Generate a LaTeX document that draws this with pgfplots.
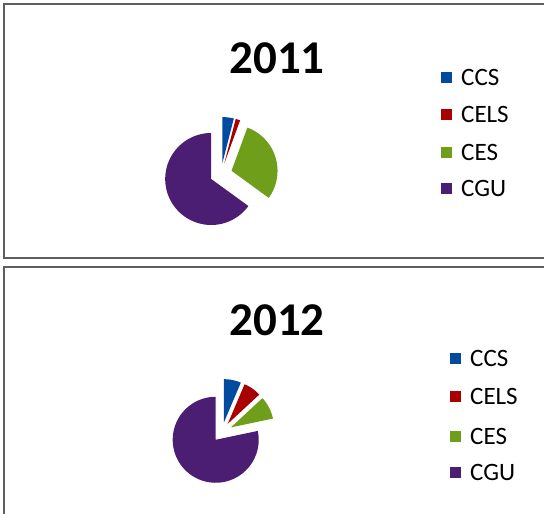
\documentclass[border=0pt]{standalone}
\usepackage{pgfplots}
\pgfplotsset{compat=1.18}
\usepackage{fontspec}
\setmainfont{Carlito}
\definecolor{cCCS}{HTML}{004AA0}
\definecolor{cCELS}{HTML}{A80000}
\definecolor{cCES}{HTML}{6F9E1A}
\definecolor{cCGU}{HTML}{4B1E73}
\definecolor{frame}{HTML}{5E5E5E}
% slice: cx cy r start% end% explode color
\newcommand{\slice}[7]{%
  \pgfmathsetmacro\sa{#4*3.6}%
  \pgfmathsetmacro\ea{#5*3.6}%
  \pgfmathsetmacro\ma{(\sa+\ea)/2}%
  \pgfmathsetmacro\ox{#1+#6*sin(\ma)}%
  \pgfmathsetmacro\oy{#2-#6*cos(\ma)}%
  \edef\temp{\noexpand\addplot[fill=#7, draw=none, domain=\sa:\ea, samples=80]
    ({\ox+#3*sin(x)},{\oy-#3*cos(x)}) -- (axis cs:\ox,\oy) -- cycle;}%
  \temp}
% legend entry: x y color label
\newcommand{\legent}[4]{%
  \pgfmathsetmacro\la{#2-5.5}\pgfmathsetmacro\lb{#2+5.5}\pgfmathsetmacro\lx{#1+11}\pgfmathsetmacro\lt{#1+20}%
  \edef\temp{\noexpand\fill[#3] (axis cs:#1,\la) rectangle (axis cs:\lx,\lb);
    \noexpand\node[anchor=west, inner sep=0pt, font=\noexpand\fontsize{25}{25}\noexpand\selectfont] at (axis cs:\lt,#2) {#4};}%
  \temp}
\begin{document}
\begin{tikzpicture}
\begin{axis}[
  at={(0,0)}, anchor=south west,
  width=544pt, height=514pt, scale only axis,
  xmin=0, xmax=544, ymin=0, ymax=514, y dir=reverse,
  hide axis, clip=false]
% frames
\draw[frame, line width=2.2pt] (axis cs:4,4) rectangle (axis cs:600,258);
\draw[frame, line width=2.2pt] (axis cs:4,267) rectangle (axis cs:600,600);
% 2011 shares (%): CCS 4, CELS 1.6, CES 29.4, CGU 65
\slice{221}{174}{46}{0}{4}{11}{cCCS}
\slice{221}{174}{46}{4}{5.6}{11}{cCELS}
\slice{221}{174}{46}{5.6}{35}{11}{cCES}
\slice{221}{174}{46}{35}{100}{11}{cCGU}
% 2012 shares (%): CCS 6.4, CELS 6.7, CES 8.6, CGU 78.3
\slice{222}{432}{43}{0}{6.4}{10}{cCCS}
\slice{222}{432}{43}{6.4}{13.1}{10}{cCELS}
\slice{222}{432}{43}{13.1}{21.7}{10}{cCES}
\slice{222}{432}{43}{21.7}{100}{10}{cCGU}
% titles
\node[anchor=base, font=\fontsize{47}{47}\selectfont\bfseries] at (axis cs:277,73) {2011};
\node[anchor=base, font=\fontsize{47}{47}\selectfont\bfseries] at (axis cs:277,335) {2012};
% legends
\legent{441}{77}{cCCS}{CCS}
\legent{441}{114}{cCELS}{CELS}
\legent{441}{152}{cCES}{CES}
\legent{441}{188}{cCGU}{CGU}
\legent{450}{358}{cCCS}{CCS}
\legent{450}{396}{cCELS}{CELS}
\legent{450}{436}{cCES}{CES}
\legent{450}{472}{cCGU}{CGU}
\end{axis}
\pgfresetboundingbox
\path[use as bounding box] (0,0) rectangle (544pt,514pt);
\end{tikzpicture}
\end{document}
